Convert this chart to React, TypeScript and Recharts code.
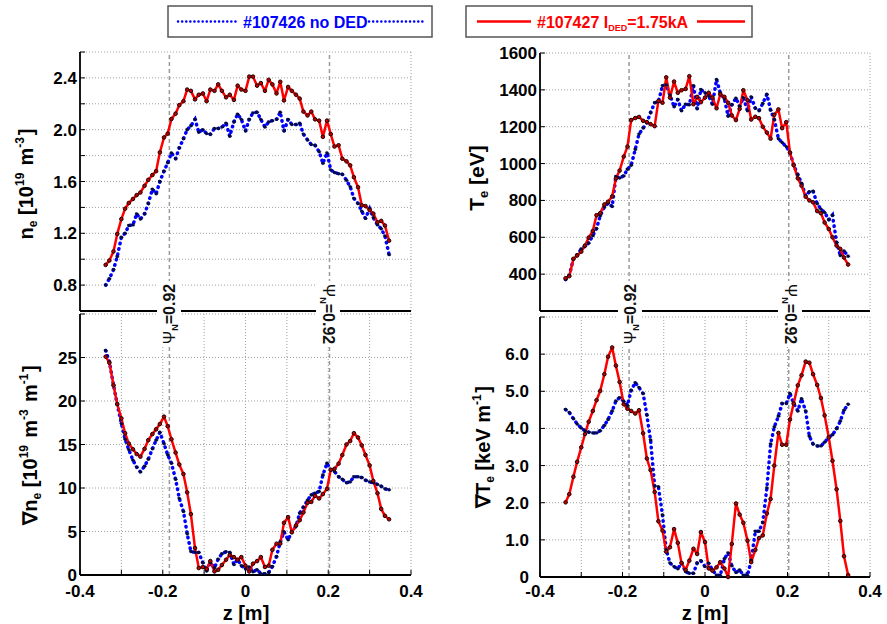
import React from 'react';
import { LineChart, Line, XAxis, YAxis, CartesianGrid, ReferenceLine } from 'recharts';

// sample positions z [m] (same channels for every profile)
const zPos = [
  -0.338, -0.329, -0.319, -0.310, -0.300, -0.291, -0.282, -0.272, -0.263, -0.254,
  -0.244, -0.235, -0.225, -0.216, -0.207, -0.197, -0.188, -0.179, -0.169, -0.160,
  -0.150, -0.141, -0.132, -0.122, -0.113, -0.103, -0.094, -0.085, -0.075, -0.066,
  -0.057, -0.047, -0.038, -0.028, -0.019, -0.010, 0.000, 0.009, 0.018, 0.028,
  0.037, 0.047, 0.056, 0.065, 0.075, 0.084, 0.093, 0.103, 0.112, 0.122,
  0.131, 0.140, 0.150, 0.159, 0.168, 0.178, 0.187, 0.197, 0.206, 0.215,
  0.225, 0.234, 0.244, 0.253, 0.262, 0.272, 0.281, 0.290, 0.300, 0.309,
  0.319, 0.328, 0.337, 0.347,
];

// n_e [1e19 m^-3]
const neRed = [
  0.956, 0.99, 1.06, 1.195, 1.31, 1.39, 1.434, 1.465, 1.495, 1.515,
  1.567, 1.613, 1.65, 1.68, 1.825, 1.94, 1.97, 2.083, 2.124, 2.19,
  2.22, 2.31, 2.30, 2.234, 2.27, 2.28, 2.22, 2.31, 2.30, 2.35,
  2.30, 2.25, 2.27, 2.23, 2.34, 2.31, 2.30, 2.41, 2.41, 2.34,
  2.36, 2.30, 2.385, 2.35, 2.28, 2.37, 2.226, 2.33, 2.30, 2.27,
  2.24, 2.14, 2.11, 2.14, 2.08, 2.07, 1.945, 2.07, 1.966, 1.87,
  1.88, 1.776, 1.756, 1.725, 1.633, 1.556, 1.416, 1.41, 1.38, 1.352,
  1.285, 1.296, 1.26, 1.143,
];
const neBlue = [
  0.80, 0.85, 0.92, 1.02, 1.17, 1.20, 1.26, 1.265, 1.35, 1.31,
  1.35, 1.43, 1.54, 1.505, 1.60, 1.68, 1.745, 1.82, 1.776, 1.86,
  1.93, 2.00, 2.03, 2.08, 1.98, 2.00, 1.97, 1.965, 2.01, 2.01,
  2.02, 2.05, 1.95, 2.06, 2.12, 2.08, 1.99, 2.08, 2.13, 2.135,
  2.08, 2.02, 2.06, 2.07, 2.08, 2.135, 1.99, 2.08, 2.04, 2.04,
  2.05, 1.966, 1.92, 1.885, 1.88, 1.83, 1.74, 1.82, 1.69, 1.67,
  1.66, 1.655, 1.61, 1.56, 1.47, 1.43, 1.37, 1.315, 1.39, 1.32,
  1.265, 1.235, 1.18, 1.035,
];

// T_e [eV]
const teRed = [
  378, 389, 483, 501, 522, 555, 598, 634, 720, 731,
  778, 793, 822, 919, 962, 1038, 1092, 1236, 1247, 1253,
  1232, 1225, 1214, 1203, 1340, 1330, 1468, 1358, 1445, 1384,
  1398, 1405, 1474, 1322, 1362, 1333, 1358, 1384, 1358, 1300,
  1376, 1362, 1330, 1261, 1236, 1297, 1398, 1344, 1239, 1254,
  1246, 1200, 1168, 1135, 1265, 1294, 1192, 1225, 1060, 991,
  920, 880, 820, 800, 790, 742, 731, 680, 645, 600,
  555, 537, 490, 452,
];
const teBlue = [
  371, 393, 483, 504, 537, 551, 569, 609, 648, 717,
  764, 785, 767, 930, 922, 933, 969, 991, 1077, 1160,
  1193, 1222, 1276, 1330, 1335, 1423, 1427, 1373, 1308, 1348,
  1287, 1322, 1319, 1423, 1297, 1402, 1384, 1366, 1322, 1456,
  1384, 1351, 1257, 1319, 1355, 1311, 1358, 1287, 1362, 1300,
  1287, 1326, 1376, 1290, 1239, 1135, 1114, 1092, 1060, 991,
  940, 894, 825, 847, 850, 782, 753, 735, 695, 720,
  573, 501, 526, 497,
];

// grad n_e [1e19 m^-3 m^-1]
const gnRed = [
  25.1, 24.4, 21.8, 19.65, 18.0, 16.3, 15.1, 14.45, 13.9, 13.6,
  14.5, 15.5, 16.2, 16.75, 17.35, 18.2, 17.1, 15.6, 14.07, 12.7,
  11.6, 9.5, 7.0, 3.1, 0.8, 0.92, 0.69, 1.6, 0.41, 0.6,
  1.15, 1.75, 2.3, 2.06, 1.75, 2.06, 1.07, 0.41, 1.3, 1.6,
  2.06, 0.92, 1.07, 2.9, 3.6, 3.6, 6.0, 6.65, 4.9, 5.7,
  6.3, 7.2, 8.3, 8.4, 9.1, 8.8, 9.3, 9.9, 12.1, 12.2,
  12.8, 13.8, 15.0, 15.4, 16.3, 15.8, 14.9, 13.8, 12.6, 10.8,
  9.4, 7.6, 6.8, 6.4,
];
const gnBlue = [
  25.8, 24.5, 21.8, 19.6, 17.4, 15.6, 14.4, 13.2, 12.4, 11.85,
  12.5, 13.3, 14.5, 15.5, 16.4, 15.1, 13.8, 12.85, 11.0, 8.8,
  7.3, 4.74, 2.7, 2.6, 2.6, 1.4, 0.46, 1.4, 0.84, 1.83,
  2.44, 2.67, 2.6, 1.2, 1.8, 1.07, 0.69, 0.92, 0.38, 0.6,
  0.15, 0.15, 0.3, 0.99, 2.13, 3.8, 4.97, 4.05, 5.0, 5.6,
  7.1, 7.8, 8.6, 9.2, 9.4, 9.6, 11.5, 12.85, 12.1, 11.9,
  11.3, 11.0, 10.6, 10.7, 11.3, 11.3, 11.2, 10.9, 10.7, 10.6,
  10.4, 10.2, 9.9, 9.8,
];

// grad T_e [keV m^-1]
const gtRed = [
  2.01, 2.23, 2.70, 3.10, 3.49, 3.85, 4.18, 4.47, 4.76, 5.01,
  5.46, 5.93, 6.18, 5.69, 5.25, 4.65, 4.53, 4.47, 4.40, 4.49,
  3.87, 3.19, 2.88, 2.29, 1.50, 1.25, 0.68, 0.80, 1.29, 0.92,
  0.38, 0.19, 0.44, 0.76, 0.62, 1.21, 0.94, 0.23, 0.17, 0.26,
  0.40, 0.23, 0.0, 0.89, 1.98, 1.68, 1.46, 0.98, 0.40, 0.73,
  1.05, 1.12, 1.71, 2.10, 3.0, 3.88, 3.56, 3.56, 4.24, 4.67,
  5.16, 5.43, 5.80, 5.77, 5.46, 5.17, 4.82, 4.35, 3.76, 3.13,
  2.36, 1.51, 0.56, 0.05,
];
const gtBlue = [
  4.51, 4.43, 4.26, 4.12, 4.01, 3.94, 3.90, 3.88, 3.88, 3.94,
  4.08, 4.24, 4.47, 4.74, 4.83, 4.73, 4.62, 5.03, 5.23, 5.10,
  4.94, 4.36, 3.69, 2.45, 2.43, 1.67, 0.73, 0.38, 0.28, 0.22,
  0.38, 0.14, 0.10, 0.10, 0.38, 0.44, 0.28, 0.37, 0.19, 0.05,
  0.04, 0.49, 0.65, 0.30, 0.12, 0.19, 0.05, 0.04, 0.45, 1.23,
  1.23, 1.47, 2.40, 3.58, 4.04, 4.33, 4.67, 4.67, 4.94, 4.67,
  4.47, 4.80, 4.47, 3.79, 3.58, 3.53, 3.53, 3.63, 3.76, 3.83,
  3.99, 4.2, 4.49, 4.65,
];

const xTicks = [-0.4, -0.3, -0.2, -0.1, 0, 0.1, 0.2, 0.3, 0.4];
const xLabels = [-0.4, -0.2, 0, 0.2, 0.4];
const psiZ = [-0.184, 0.203];

const neTicks = [0.6, 0.8, 1.0, 1.2, 1.4, 1.6, 1.8, 2.0, 2.2, 2.4, 2.6];
const neLabels = [0.8, 1.2, 1.6, 2.0, 2.4];
const teTicks = [200, 400, 600, 800, 1000, 1200, 1400, 1600];
const teLabels = [400, 600, 800, 1000, 1200, 1400, 1600];
const gnTicks = [0, 5, 10, 15, 20, 25, 30];
const gnLabels = [0, 5, 10, 15, 20, 25];
const gtTicks = [0, 1, 2, 3, 4, 5, 6, 7];
const gtLabels = [0, 1, 2, 3, 4, 5, 6];

const RED = '#ff0000';
const BLUE = '#0000ff';
const FONT = '"Liberation Sans", Arial, Helvetica, sans-serif';

const has = (list: number[], v: number) => list.some((l) => Math.abs(l - v) < 1e-9);
const fmtX = (v: number) => (has(xLabels, v) ? (Math.abs(v) < 1e-9 ? '0' : v.toFixed(1)) : '');

const YW = 70;
const MT = 10;
const MR = 28;
const XH = 40;

type PanelProps = {
  left: number;
  top: number;
  w: number;
  h: number;
  red: number[];
  blue: number[];
  domain: [number, number];
  ticks: number[];
  fmt: (v: number) => string;
  showX: boolean;
  xMargin: number;
  yMargin: number;
};

const Panel = (p: PanelProps) => {
  const data = zPos.map((z, i) => ({ z, red: p.red[i], blue: p.blue[i] }));
  const frame = { stroke: '#000', strokeWidth: 1.8 };
  const tline = { stroke: '#000', strokeWidth: 1 };
  const tickStyle = { fontSize: 17, fontWeight: 'bold', fill: '#000', fontFamily: FONT };
  return (
    <div style={{ position: 'absolute', left: p.left - YW, top: p.top - MT }}>
      <LineChart
        width={YW + p.w + MR}
        height={MT + p.h + XH}
        data={data}
        margin={{ top: MT, right: MR, bottom: 0, left: 0 }}
      >
        <CartesianGrid xAxisId="b" yAxisId="l" stroke="#a0a0a0" strokeDasharray="1 2" />
        <XAxis
          xAxisId="b"
          dataKey="z"
          type="number"
          domain={[-0.4, 0.4]}
          ticks={xTicks}
          interval={0}
          height={XH}
          axisLine={frame}
          tickLine={tline}
          tickSize={-5}
          tickMargin={p.xMargin}
          tick={p.showX ? tickStyle : false}
          tickFormatter={fmtX}
        />
        <XAxis
          xAxisId="t"
          orientation="top"
          dataKey="z"
          type="number"
          domain={[-0.4, 0.4]}
          ticks={xTicks}
          interval={0}
          height={0}
          axisLine={frame}
          tickLine={tline}
          tickSize={-5}
          tick={false}
        />
        <YAxis
          yAxisId="l"
          type="number"
          domain={p.domain}
          ticks={p.ticks}
          interval={0}
          width={YW}
          axisLine={frame}
          tickLine={tline}
          tickSize={-5}
          tickMargin={p.yMargin}
          tick={tickStyle}
          tickFormatter={p.fmt}
        />
        <YAxis
          yAxisId="r"
          orientation="right"
          type="number"
          domain={p.domain}
          ticks={p.ticks}
          interval={0}
          width={0}
          axisLine={frame}
          tickLine={tline}
          tickSize={-5}
          tick={false}
        />
        {psiZ.map((v) => (
          <ReferenceLine
            key={v}
            xAxisId="b"
            yAxisId="l"
            x={v}
            stroke="#9a9a9a"
            strokeWidth={1.5}
            strokeDasharray="4 3"
          />
        ))}
        <Line
          xAxisId="b"
          yAxisId="l"
          type="linear"
          dataKey="blue"
          stroke={BLUE}
          strokeWidth={3.5}
          strokeDasharray="0.5 5"
          strokeLinecap="round"
          dot={{ r: 1.7, fill: '#000a50', stroke: '#000', strokeWidth: 0.6 }}
          isAnimationActive={false}
        />
        <Line
          xAxisId="b"
          yAxisId="l"
          type="linear"
          dataKey="red"
          stroke={RED}
          strokeWidth={2.5}
          strokeLinejoin="round"
          dot={{ r: 1.8, fill: '#c00000', stroke: '#200000', strokeWidth: 1 }}
          isAnimationActive={false}
        />
      </LineChart>
    </div>
  );
};

const PsiLabel = ({ x, y, rot }: { x: number; y: number; rot: number }) => (
  <g transform={`translate(${x},${y}) rotate(${rot})`}>
    <rect x={-33} y={-12} width={66} height={24} fill="#fff" />
    <text
      x={0}
      y={5.5}
      textAnchor="middle"
      fontSize={16}
      fontWeight="bold"
      fontFamily={FONT}
      fill="#111"
    >
      <tspan fontWeight="normal">Ψ</tspan>
      <tspan fontSize={9} dy={3}>N</tspan>
      <tspan dy={-3}>=0.92</tspan>
    </text>
  </g>
);

const sup = (s: string) => (
  <>
    <tspan fontSize={12} dy={-9}>{s}</tspan>
    <tspan dy={9}>{'\u200a'}</tspan>
  </>
);

const App = () => {
  const titleProps = {
    textAnchor: 'middle' as const,
    fontSize: 20,
    fontWeight: 'bold',
    fontFamily: FONT,
    fill: '#000',
    style: { whiteSpace: 'pre' as const },
  };
  return (
    <div
      style={{
        position: 'absolute',
        left: 0,
        top: 0,
        width: 887,
        height: 624,
        background: '#fff',
        overflow: 'hidden',
      }}
    >
      <Panel left={80} top={52} w={331} h={259} red={neRed} blue={neBlue}
        domain={[0.6, 2.6]} ticks={neTicks}
        fmt={(v) => (has(neLabels, v) ? v.toFixed(1) : '')}
        showX={false} xMargin={15} yMargin={8} />
      <Panel left={80} top={314} w={331} h={261} red={gnRed} blue={gnBlue}
        domain={[0, 30]} ticks={gnTicks}
        fmt={(v) => (has(gnLabels, v) ? String(v) : '')}
        showX={true} xMargin={15} yMargin={8} />
      <Panel left={540} top={53} w={330} h={258} red={teRed} blue={teBlue}
        domain={[200, 1600]} ticks={teTicks}
        fmt={(v) => (has(teLabels, v) ? String(v) : '')}
        showX={false} xMargin={15} yMargin={8} />
      <Panel left={540} top={317} w={330} h={260} red={gtRed} blue={gtBlue}
        domain={[0, 7]} ticks={gtTicks}
        fmt={(v) => (has(gtLabels, v) ? (v === 0 ? '0' : v.toFixed(1)) : '')}
        showX={true} xMargin={13} yMargin={16} />

      <svg
        width={887}
        height={624}
        style={{ position: 'absolute', left: 0, top: 0, pointerEvents: 'none' }}
      >
        {/* legend */}
        <rect x={168} y={6} width={264} height={31} fill="#fff" stroke="#555" strokeWidth={1.5} />
        <line x1={178} x2={237} y1={21.5} y2={21.5} stroke={BLUE} strokeWidth={2.5}
          strokeDasharray="0.1 4" strokeLinecap="round" />
        <line x1={369} x2={426} y1={21.5} y2={21.5} stroke={BLUE} strokeWidth={2.5}
          strokeDasharray="0.1 4" strokeLinecap="round" />
        <text x={243} y={27.5} fontSize={16} fontWeight="bold" fontFamily={FONT} fill={BLUE}>
          #107426 no DED
        </text>
        <rect x={466} y={6} width={286} height={31} fill="#fff" stroke="#555" strokeWidth={1.5} />
        <line x1={477} x2={531} y1={21.5} y2={21.5} stroke={RED} strokeWidth={2.5} />
        <line x1={697} x2={745} y1={21.5} y2={21.5} stroke={RED} strokeWidth={2.5} />
        <text x={537} y={27.5} fontSize={16} fontWeight="bold" fontFamily={FONT} fill={RED}>
          #107427 I<tspan fontSize={9} dy={3}>DED</tspan>
          <tspan dy={-3}>=1.75kA</tspan>
        </text>

        {/* psi_N = 0.92 markers */}
        <PsiLabel x={169} y={314} rot={-90} />
        <PsiLabel x={328} y={314} rot={90} />
        <PsiLabel x={630} y={314} rot={-90} />
        <PsiLabel x={790} y={314} rot={90} />

        {/* axis titles */}
        <text transform="translate(33,184) rotate(-90)" {...titleProps}>
          n<tspan fontSize={12} dy={4}>e</tspan>
          <tspan dy={-4}> [10</tspan>
          {sup('19')}
          <tspan> m</tspan>
          {sup('-3')}
          <tspan>]</tspan>
        </text>
        <text transform="translate(37,445) rotate(-90)" {...titleProps}>
          ∇n<tspan fontSize={12} dy={4}>e</tspan>
          <tspan dy={-4}> [10</tspan>
          {sup('19')}
          <tspan> m</tspan>
          {sup('-3')}
          <tspan> m</tspan>
          {sup('-1')}
          <tspan>]</tspan>
        </text>
        <text transform="translate(484,178) rotate(-90)" {...titleProps} fontSize={21}>
          T<tspan fontSize={13} dy={4}>e</tspan>
          <tspan dy={-4}> [eV]</tspan>
        </text>
        <text transform="translate(490,447) rotate(-90)" {...titleProps}>
          ∇T<tspan fontSize={12} dy={4}>e</tspan>
          <tspan dy={-4}> [keV m</tspan>
          {sup('-1')}
          <tspan>]</tspan>
        </text>
        <text x={246} y={620} {...titleProps}>z [m]</text>
        <text x={705} y={620} {...titleProps}>z [m]</text>
      </svg>
    </div>
  );
};

export default App;
